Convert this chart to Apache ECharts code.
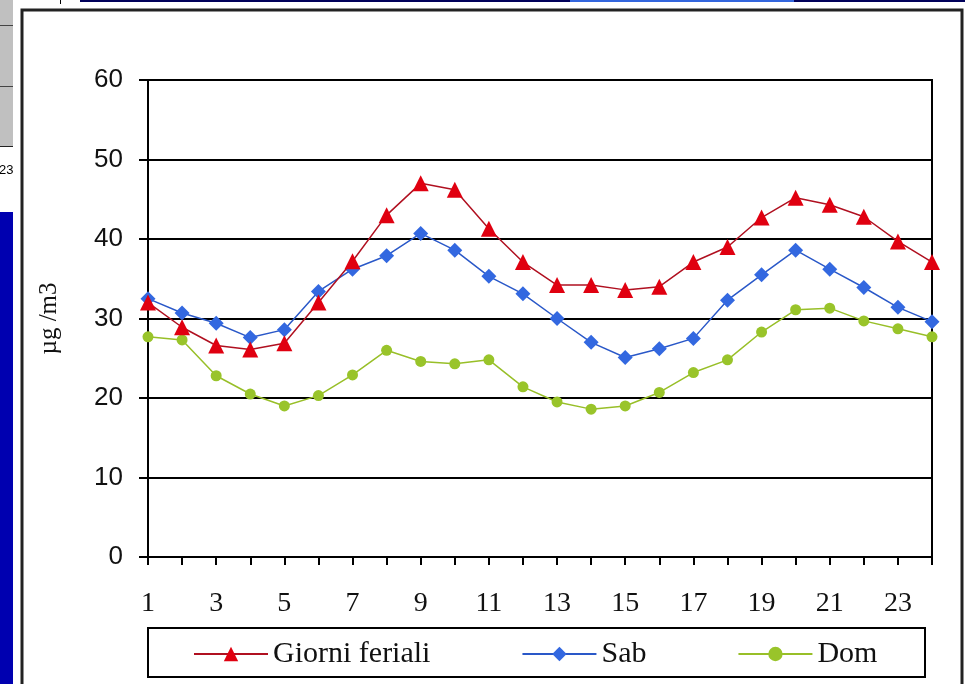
<!DOCTYPE html>
<html>
<head>
<meta charset="utf-8">
<script src="https://cdn.jsdelivr.net/npm/echarts@6/dist/echarts.min.js"></script>
<style>
html,body{margin:0;padding:0;background:#fff;}
#c{width:965px;height:684px;}
</style>
</head>
<body>
<div id="c"></div>
<script>
var hours = ['1','2','3','4','5','6','7','8','9','10','11','12','13','14','15','16','17','18','19','20','21','22','23','24'];
var seriesNames = ['Giorni feriali', 'Sab', 'Dom'];
var feriali = [32.0, 28.9, 26.6, 26.1, 26.9, 32.0, 37.2, 43.0, 47.0, 46.2, 41.3, 37.1, 34.2, 34.2, 33.6, 34.0, 37.1, 39.0, 42.7, 45.2, 44.3, 42.8, 39.7, 37.1];
var sab = [32.5, 30.7, 29.4, 27.6, 28.6, 33.4, 36.2, 37.9, 40.7, 38.6, 35.3, 33.1, 30.0, 27.0, 25.1, 26.2, 27.5, 32.3, 35.5, 38.6, 36.2, 33.9, 31.4, 29.6];
var dom = [27.7, 27.3, 22.8, 20.5, 19.0, 20.3, 22.9, 26.0, 24.6, 24.3, 24.8, 21.4, 19.5, 18.6, 19.0, 20.7, 23.2, 24.8, 28.3, 31.1, 31.3, 29.7, 28.7, 27.7];
var yTicks = {min: 0, max: 60, interval: 10};
var yName = 'µg /m3';

var chart = echarts.init(document.getElementById('c'), null, {renderer: 'canvas'});
var serifFont = '"Liberation Serif", "DejaVu Serif", serif';
var sansFont = '"Liberation Sans", "DejaVu Sans", sans-serif';

chart.setOption({
  backgroundColor: '#ffffff',
  animation: false,
  grid: {
    left: 148, right: 33, top: 80, bottom: 127,
    show: true, borderColor: '#000', borderWidth: 2, backgroundColor: '#fff'
  },
  legend: {
    data: seriesNames,
    left: 193, top: 639, padding: 0,
    itemWidth: 74, itemHeight: 18, itemGap: 91,
    textStyle: {fontFamily: serifFont, fontSize: 30, color: '#111'}
  },
  xAxis: {
    type: 'category',
    data: hours,
    boundaryGap: false,
    axisLine: {lineStyle: {color: '#000', width: 2}},
    axisTick: {show: true, interval: 0, length: 8, lineStyle: {color: '#000', width: 2}},
    axisLabel: {interval: 1, margin: 33, fontFamily: serifFont, fontSize: 28, color: '#111'},
    splitLine: {show: false}
  },
  yAxis: {
    type: 'value',
    min: yTicks.min, max: yTicks.max, interval: yTicks.interval,
    name: yName,
    nameLocation: 'middle',
    nameRotate: 90,
    nameGap: 86,
    nameTextStyle: {fontFamily: serifFont, fontSize: 25, color: '#111'},
    axisLine: {show: true, lineStyle: {color: '#000', width: 2}},
    axisTick: {show: true, length: 9, lineStyle: {color: '#000', width: 2}},
    axisLabel: {margin: 25, fontFamily: sansFont, fontSize: 26, color: '#111'},
    splitLine: {show: true, lineStyle: {color: '#000', width: 2}}
  },
  series: [
    {
      name: seriesNames[0], type: 'line', data: feriali,
      symbol: 'triangle', symbolSize: 16,
      lineStyle: {color: '#b01020', width: 1.5},
      itemStyle: {color: '#e00010'},
      z: 3
    },
    {
      name: seriesNames[1], type: 'line', data: sab,
      symbol: 'diamond', symbolSize: 15,
      lineStyle: {color: '#2a58c8', width: 1.5},
      itemStyle: {color: '#3368e0'},
      z: 2
    },
    {
      name: seriesNames[2], type: 'line', data: dom,
      symbol: 'circle', symbolSize: 11,
      lineStyle: {color: '#98bf28', width: 1.5},
      itemStyle: {color: '#99c42a'},
      z: 1
    }
  ],
  graphic: [
    {type: 'rect', shape: {x: 22, y: 10, width: 940, height: 700}, style: {fill: 'none', stroke: '#222', lineWidth: 3}, z: -1},
    {type: 'rect', shape: {x: 148, y: 628, width: 777, height: 49}, style: {fill: 'none', stroke: '#000', lineWidth: 2}},
    {type: 'rect', shape: {x: 0, y: 0, width: 13, height: 146}, style: {fill: '#c0c0c0'}},
    {type: 'rect', shape: {x: 0, y: 25, width: 13, height: 1}, style: {fill: '#444'}},
    {type: 'rect', shape: {x: 0, y: 86, width: 13, height: 1}, style: {fill: '#444'}},
    {type: 'rect', shape: {x: 0, y: 146, width: 13, height: 1}, style: {fill: '#222'}},
    {type: 'rect', shape: {x: 60, y: 0, width: 1, height: 4}, style: {fill: '#000'}},
    {type: 'rect', shape: {x: 80, y: 0, width: 490, height: 2}, style: {fill: '#00005a'}},
    {type: 'rect', shape: {x: 570, y: 0, width: 224, height: 2}, style: {fill: '#3366dd'}},
    {type: 'rect', shape: {x: 794, y: 0, width: 171, height: 2}, style: {fill: '#00005a'}},
    {type: 'text', x: -1, y: 164, style: {text: '23', fontFamily: sansFont, fontSize: 13, fill: '#000'}},
    {type: 'rect', shape: {x: 0, y: 212, width: 13, height: 472}, style: {fill: '#0000b0'}}
  ]
});
</script>
</body>
</html>
